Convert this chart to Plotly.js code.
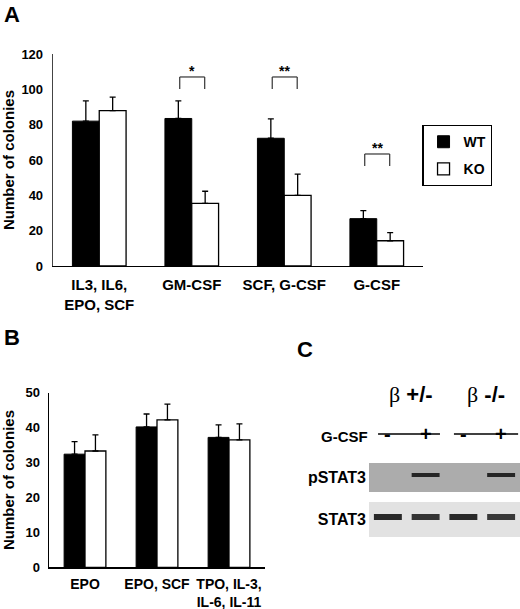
<!DOCTYPE html>
<html>
<head>
<meta charset="utf-8">
<script src="https://cdn.plot.ly/plotly-3.0.1.min.js"></script>
<style>
  html, body { margin: 0; padding: 0; background: #fff; }
  #chart { width: 520px; height: 609px; }
</style>
</head>
<body>
<div id="chart"></div>
<script>
// panel A: colony assay, myeloid conditions
const catsA = ['IL3, IL6,<br>EPO, SCF', 'GM-CSF', 'SCF, G-CSF', 'G-CSF'];
const wtA = [82, 83.5, 72.3, 26.8];
const wtErrA = [11.5, 10, 11, 4.5];
const koA = [88, 35.5, 40, 14.3];
const koErrA = [7.6, 6.8, 12, 4.6];
const sigIdx = [1, 2, 3];
const sigText = ['*', '**', '**'];

// panel B: erythroid / megakaryocyte conditions
const catsB = ['EPO', 'EPO, SCF', 'TPO, IL-3,<br>IL-6, IL-11'];
const wtB = [32.4, 40.2, 37.2];
const wtErrB = [3.6, 3.7, 3.6];
const koB = [33.3, 42.2, 36.5];
const koErrB = [4.6, 4.5, 4.6];

// panel C: western blot, band intensity per lane (0..1)
const lanes = [0, 1, 2, 3];
const gcsf = ['-', '+', '-', '+'];
const genotypes = ['+/-', '-/-'];
const blotRows = ['STAT3', 'pSTAT3'];
const pSTAT3 = [0, 1, 0, 1];
const STAT3 = [1, 0.9, 1, 0.85];

const FONT = 'Arial, "Liberation Sans", sans-serif';
const bold = (size) => ({ family: FONT, size: size, color: '#000', weight: 'bold' });

function errBar(vals) {
  return { type: 'data', array: vals, arrayminus: vals.map(() => 0), symmetric: false,
           color: '#000', thickness: 1.3, width: 3 };
}

const traces = [
  { type: 'bar', name: 'WT', legendgroup: 'wt', x: catsA, y: wtA, xaxis: 'x', yaxis: 'y',
    marker: { color: '#000', line: { color: '#000', width: 1 } }, error_y: errBar(wtErrA) },
  { type: 'bar', name: 'KO', legendgroup: 'ko', x: catsA, y: koA, xaxis: 'x', yaxis: 'y',
    marker: { color: '#fff', line: { color: '#000', width: 1.3 } }, error_y: errBar(koErrA) },
  { type: 'bar', name: 'WT', showlegend: false, x: catsB, y: wtB, xaxis: 'x2', yaxis: 'y2',
    marker: { color: '#000', line: { color: '#000', width: 1 } }, error_y: errBar(wtErrB) },
  { type: 'bar', name: 'KO', showlegend: false, x: catsB, y: koB, xaxis: 'x2', yaxis: 'y2',
    marker: { color: '#fff', line: { color: '#000', width: 1.3 } }, error_y: errBar(koErrB) }
];

// blot bands drawn as short thick segments
function bands(row, vals, width) {
  vals.forEach((v, i) => {
    if (v <= 0) return;
    traces.push({
      type: 'scatter', mode: 'lines', showlegend: false, hoverinfo: 'skip',
      x: [lanes[i] - 0.37, lanes[i] + 0.37], y: [row, row], xaxis: 'x3', yaxis: 'y3',
      line: { color: 'rgba(30,30,30,' + (0.4 + 0.55 * v) + ')', width: width }
    });
  });
}
bands(1.06, pSTAT3, 4);
bands(0.06, STAT3, 6);

const shapes = [];
const annotations = [];

// significance brackets over panel A
const bracketTop = [107, 107, 63.4];
sigIdx.forEach((g, k) => {
  const x0 = g - 0.13, x1 = g + 0.14, top = bracketTop[k], bot = top - 6.8;
  const ln = { color: '#333', width: 1.2 };
  shapes.push({ type: 'line', xref: 'x', yref: 'y', x0: x0, x1: x1, y0: top, y1: top, line: ln });
  shapes.push({ type: 'line', xref: 'x', yref: 'y', x0: x0, x1: x0, y0: top, y1: bot, line: ln });
  shapes.push({ type: 'line', xref: 'x', yref: 'y', x0: x1, x1: x1, y0: top, y1: bot, line: ln });
  annotations.push({ xref: 'x', yref: 'y', x: g + 0.005, y: top, yanchor: 'bottom', yshift: -4,
                     text: sigText[k], showarrow: false, font: bold(14) });
});

// blot membranes
shapes.push({ type: 'rect', xref: 'x3', yref: 'y3', x0: -0.5, x1: 3.5, y0: 0.655, y1: 1.345,
              layer: 'below', line: { width: 0 }, fillcolor: '#acacac' });
shapes.push({ type: 'rect', xref: 'x3', yref: 'y3', x0: -0.5, x1: 3.5, y0: -0.417, y1: 0.417,
              layer: 'below', line: { width: 0 }, fillcolor: '#e2e2e2' });
// genotype underlines
shapes.push({ type: 'line', xref: 'x3', yref: 'paper', x0: -0.26, x1: 1.38, y0: 0.2874, y1: 0.2874,
              line: { color: '#000', width: 1.6 } });
shapes.push({ type: 'line', xref: 'x3', yref: 'paper', x0: 1.75, x1: 3.45, y0: 0.2874, y1: 0.2874,
              line: { color: '#000', width: 1.6 } });

genotypes.forEach((g, i) => {
  annotations.push({ xref: 'x3', yref: 'paper', x: 0.6 + 2 * i, y: 0.328, showarrow: false,
    text: '<span style="font-family:Liberation Serif;font-weight:normal">β</span> <b>' + g + '</b>',
    font: { family: FONT, size: 22, color: '#000' } });
});
gcsf.forEach((s, i) => {
  annotations.push({ xref: 'x3', yref: 'paper', x: lanes[i], y: 0.266, showarrow: false,
                     text: s, font: bold(20) });
});
annotations.push({ xref: 'paper', yref: 'paper', x: 370 / 520, y: 0.266, xanchor: 'right',
                   showarrow: false, text: 'G-CSF', font: bold(15) });

// panel letters
[['A', 0.004, 1.0], ['B', 0.004, 0.4695], ['C', 0.567, 0.4495]].forEach(p => {
  annotations.push({ xref: 'paper', yref: 'paper', x: p[1], y: p[2], xanchor: 'left', yanchor: 'top',
                     showarrow: false, text: p[0], font: bold(22) });
});

const layout = {
  width: 520, height: 609,
  margin: { l: 0, r: 0, t: 0, b: 0 },
  paper_bgcolor: '#fff', plot_bgcolor: 'rgba(0,0,0,0)',
  barmode: 'group', bargap: 0.42, bargroupgap: 0,
  font: { family: FONT, color: '#000' },
  showlegend: true,
  legend: { x: 0.812, y: 0.795, xanchor: 'left', yanchor: 'top', bgcolor: '#fff',
            bordercolor: '#000', borderwidth: 1.3, font: bold(14), tracegroupgap: 6 },
  xaxis: { domain: [53 / 520, 423 / 520], anchor: 'y', showline: true, linecolor: '#000', linewidth: 1.3,
           ticks: '', tickangle: 0, tickfont: bold(15), ticklabelstandoff: 5, fixedrange: true },
  yaxis: { domain: [1 - 266 / 609, 1 - 54 / 609], anchor: 'x', range: [0, 120], dtick: 20,
           showline: true, linecolor: '#444', linewidth: 1.3, showgrid: false, zeroline: false,
           ticks: '', tickfont: bold(13), ticklabelstandoff: 6,
           title: { text: 'Number of colonies', font: bold(15), standoff: 8 } },
  xaxis2: { domain: [49 / 520, 265 / 520], anchor: 'y2', showline: true, linecolor: '#000', linewidth: 1.5,
            ticks: '', tickangle: 0, tickfont: bold(14), ticklabelstandoff: 3, fixedrange: true },
  yaxis2: { domain: [1 - 567.3 / 609, 1 - 392.7 / 609], anchor: 'x2', range: [0, 50], dtick: 10,
            showline: true, linecolor: '#000', linewidth: 1.5, showgrid: false, zeroline: false,
            ticks: '', tickfont: bold(13), ticklabelstandoff: 5,
            title: { text: 'Number of colonies', font: bold(15), standoff: 8 } },
  xaxis3: { domain: [369 / 520, 1], anchor: 'y3', range: [-0.5, 3.5], visible: false, fixedrange: true },
  yaxis3: { domain: [1 - 540.5 / 609, 1 - 456.5 / 609], anchor: 'x3', range: [-0.5, 1.5],
            tickvals: [0, 1], ticktext: blotRows, ticks: '', showline: false, showgrid: false,
            zeroline: false, tickfont: bold(16), ticklabelstandoff: 2 },
  shapes: shapes,
  annotations: annotations
};

Plotly.newPlot('chart', traces, layout, { displayModeBar: false, staticPlot: true });
</script>
</body>
</html>
